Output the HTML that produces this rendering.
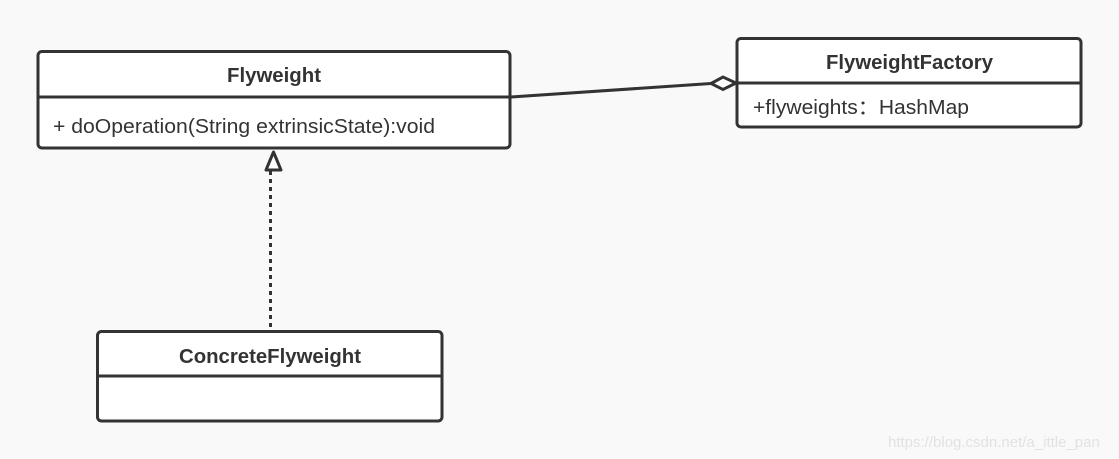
<!DOCTYPE html>
<html><head><meta charset="utf-8"><style>
html,body{margin:0;padding:0;background:#f9f9f9;}
svg{display:block;}
text{font-family:"Liberation Sans","Noto Sans CJK SC",sans-serif;fill:#333;}
</style></head><body>
<svg width="1119" height="459" viewBox="0 0 1119 459" xmlns="http://www.w3.org/2000/svg">
<rect width="1119" height="459" fill="#f9f9f9"/>
<g stroke="#333" stroke-width="3" fill="#fff">
<rect x="38" y="51.5" width="472" height="96.5" rx="4"/>
<line x1="38" y1="97" x2="510" y2="97"/>
<rect x="737" y="38.5" width="344" height="88.5" rx="4"/>
<line x1="737" y1="83" x2="1081" y2="83"/>
<rect x="97.5" y="331.5" width="344.5" height="89.5" rx="4"/>
<line x1="97.5" y1="376" x2="442" y2="376"/>
</g>
<line x1="511" y1="97" x2="711" y2="83.5" stroke="#333" stroke-width="3"/>
<polygon points="711,83.5 723,77 736,83 723,89.5" fill="#fff" stroke="#333" stroke-width="3" stroke-linejoin="miter"/>
<line x1="270.5" y1="171" x2="270.5" y2="330" stroke="#333" stroke-width="3" stroke-dasharray="4,4"/>
<polygon points="273.5,152 266,170 281,170" fill="#fff" stroke="#333" stroke-width="3" stroke-linejoin="round"/>
<text x="227" y="82" font-size="20" font-weight="bold" textLength="94" lengthAdjust="spacingAndGlyphs">Flyweight</text>
<text x="53" y="133" font-size="20" textLength="382" lengthAdjust="spacingAndGlyphs">+ doOperation(String extrinsicState):void</text>
<text x="826" y="69" font-size="20" font-weight="bold" textLength="167" lengthAdjust="spacingAndGlyphs">FlyweightFactory</text>
<text x="753" y="114" font-size="20" textLength="216" lengthAdjust="spacingAndGlyphs">+flyweights：HashMap</text>
<text x="179" y="363" font-size="20" font-weight="bold" textLength="182" lengthAdjust="spacingAndGlyphs">ConcreteFlyweight</text>
<text x="888" y="447" font-size="15" style="fill:#e2e2e2">https://blog.csdn.net/a_ittle_pan</text>
</svg>
</body></html>
